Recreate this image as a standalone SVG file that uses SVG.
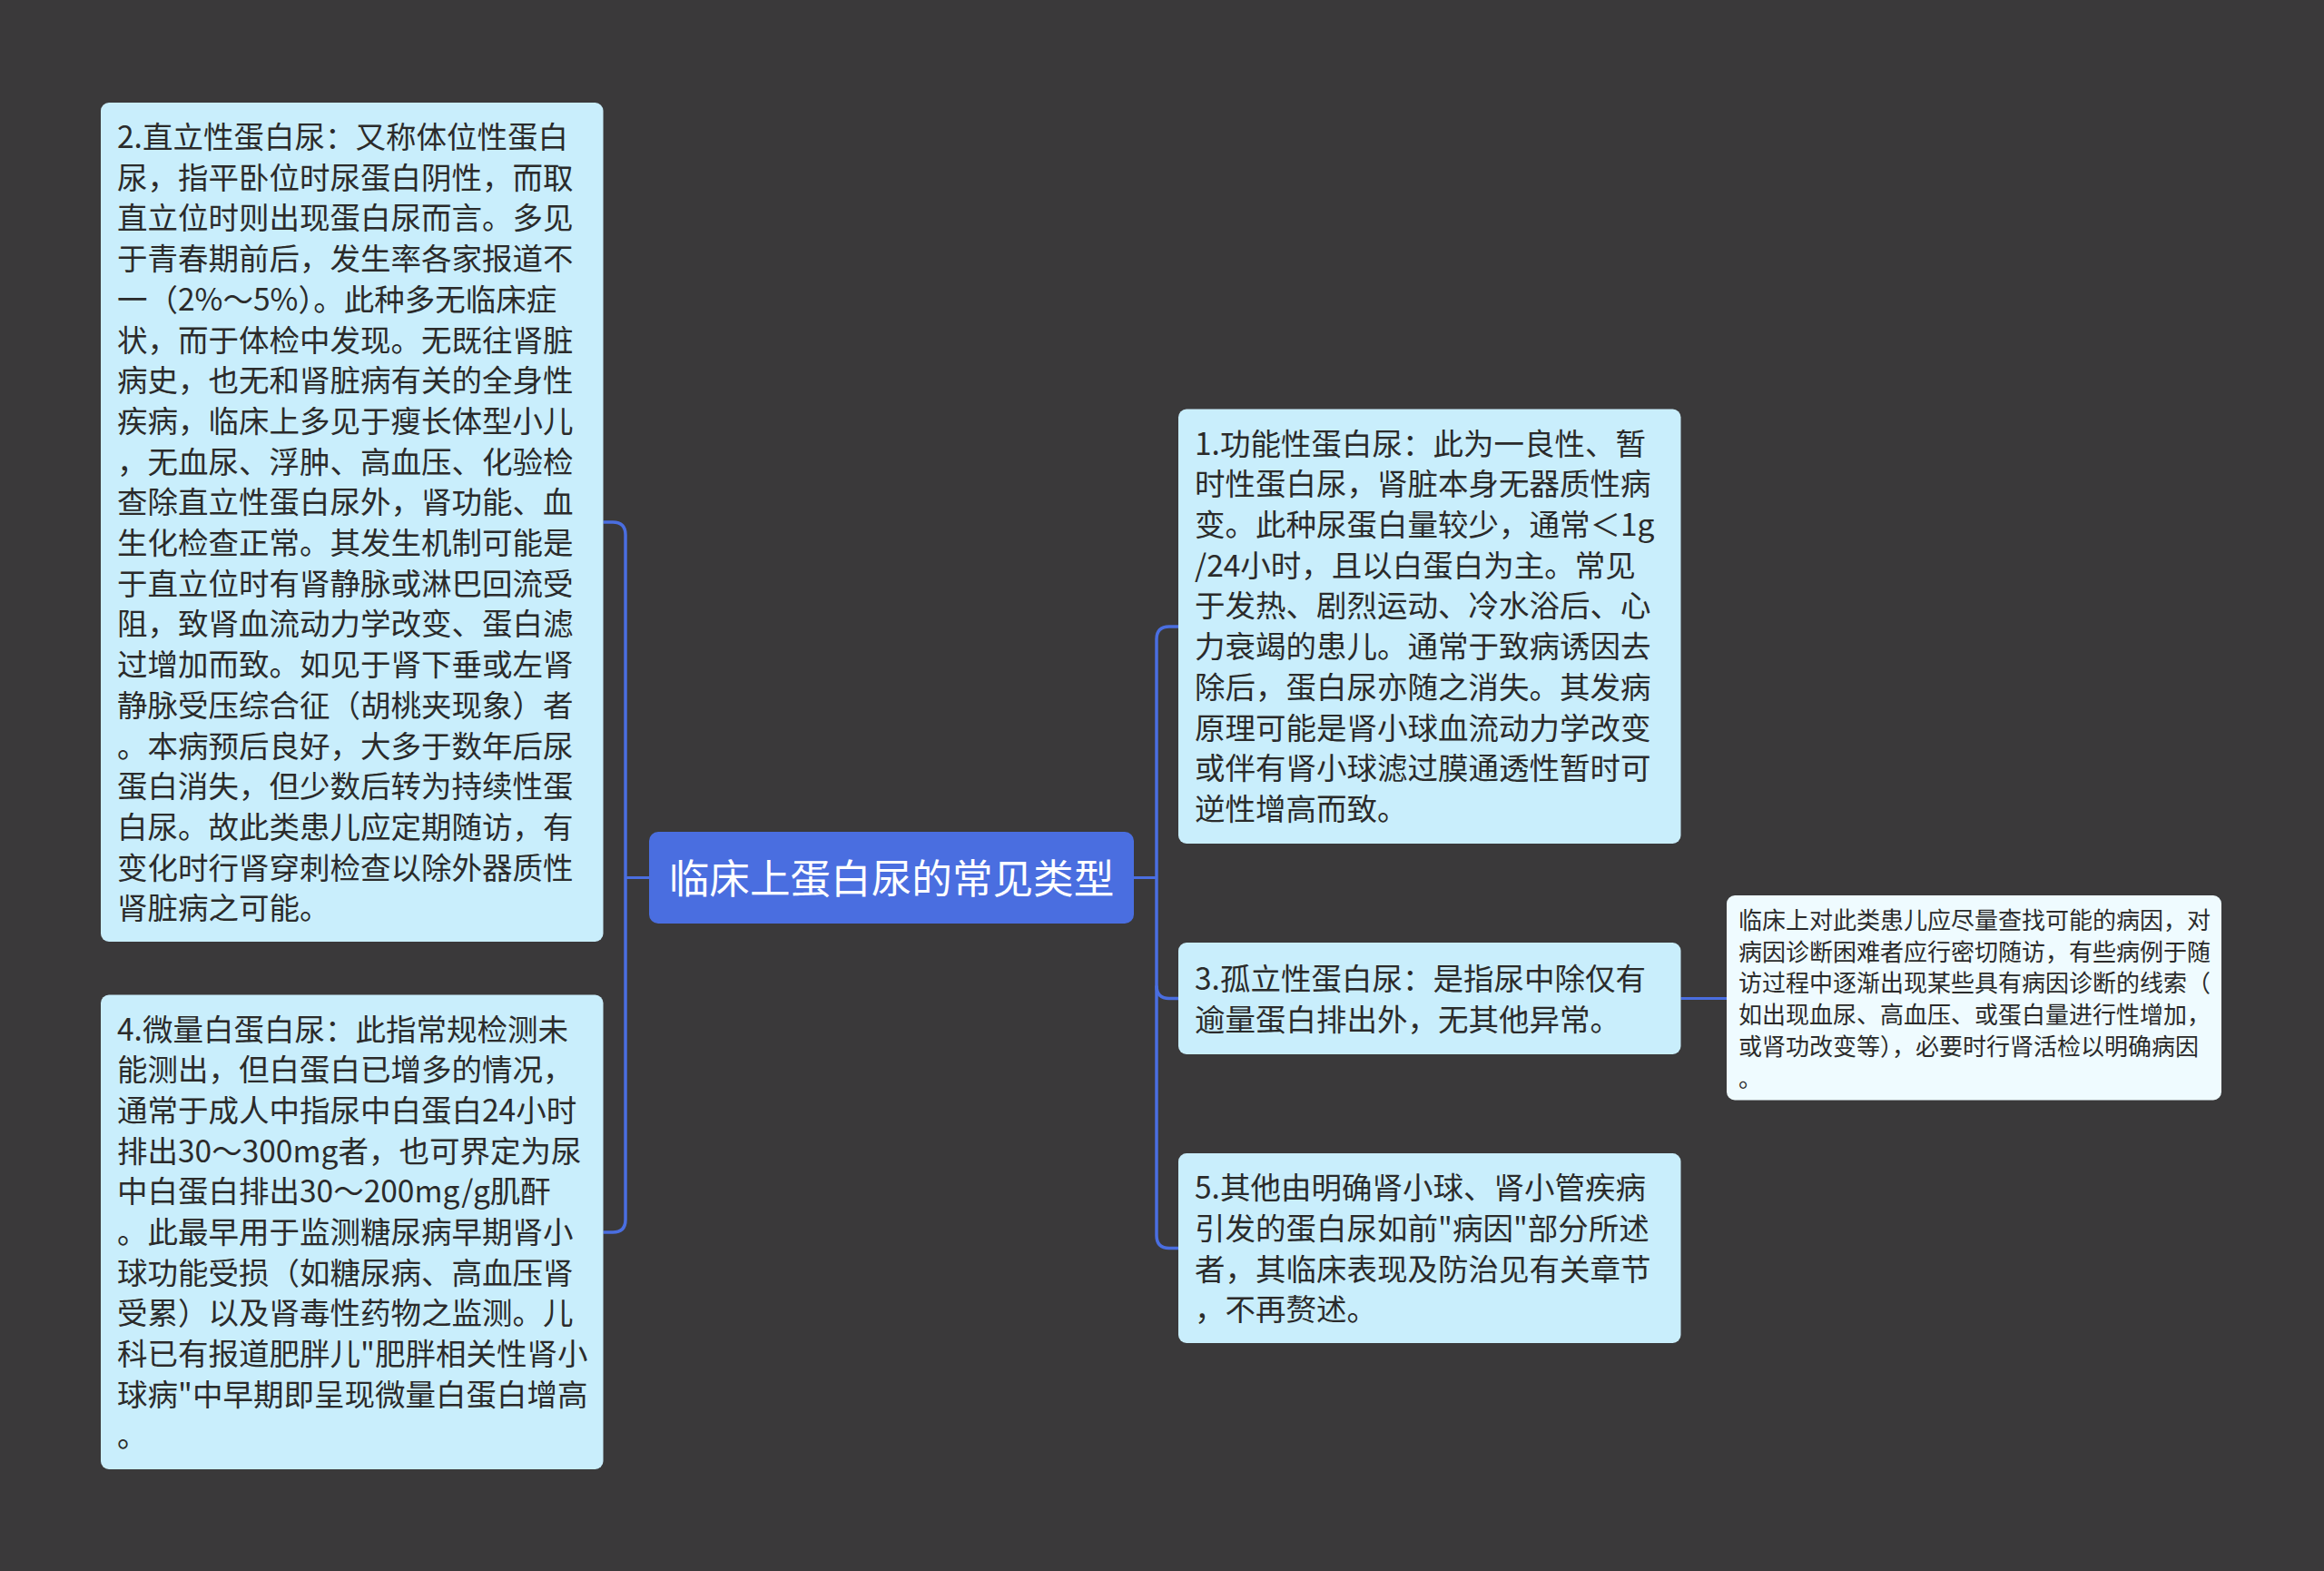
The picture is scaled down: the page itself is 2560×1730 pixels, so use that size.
<svg xmlns="http://www.w3.org/2000/svg" width="2560" height="1730" viewBox="0 0 2560 1730">
<style>
.bg{fill:#3a393a}
.box{fill:#c9eefc}
.note{fill:#effbff}
.root{fill:#4a6ee0}
.t{font-family:"Noto Sans CJK SC","Noto Sans",sans-serif;font-size:33.5px;fill:#2b2b2b}
.s{font-family:"Noto Sans CJK SC","Noto Sans",sans-serif;font-size:26px;fill:#2b2b2b}
.r{font-family:"Noto Sans CJK SC","Noto Sans",sans-serif;font-size:44.6px;fill:#ffffff}
.c{fill:none;stroke:#4a6ee0;stroke-width:3.5}
.c2{fill:none;stroke:#4a6ee0;stroke-width:3}
</style>
<rect class="bg" x="0" y="0" width="2560" height="1730"/>
<g id="connectors">
<path class="c2" d="M715 966.5 H689"/>
<path class="c" d="M664.5 575 H675 Q689 575 689 589 V1343 Q689 1357 675 1357 H664.5"/>
<path class="c2" d="M1249 966.5 H1274"/>
<path class="c" d="M1298 690 H1288 Q1274 690 1274 704 V1360.5 Q1274 1374.5 1288 1374.5 H1298"/>
<path class="c" d="M1274 1085.5 Q1274 1099.5 1288 1099.5 H1298"/>
<path class="c2" d="M1851.5 1099.5 H1902"/>
</g>
<g id="root">
<rect class="root" x="715" y="916" width="534" height="101" rx="10"/>
<text class="r" x="982" y="983.5" text-anchor="middle">临床上蛋白尿的常见类型</text>
</g>
<g id="node2">
<rect class="box" x="111" y="113" width="553.5" height="924" rx="9"/>
<text class="t">
<tspan x="129" y="163">2.直立性蛋白尿：又称体位性蛋白</tspan>
<tspan x="129" y="207.7">尿，指平卧位时尿蛋白阴性，而取</tspan>
<tspan x="129" y="252.4">直立位时则出现蛋白尿而言。多见</tspan>
<tspan x="129" y="297.1">于青春期前后，发生率各家报道不</tspan>
<tspan x="129" y="341.8">一（2%～5%）。此种多无临床症</tspan>
<tspan x="129" y="386.5">状，而于体检中发现。无既往肾脏</tspan>
<tspan x="129" y="431.2">病史，也无和肾脏病有关的全身性</tspan>
<tspan x="129" y="475.9">疾病，临床上多见于瘦长体型小儿</tspan>
<tspan x="129" y="520.6">，无血尿、浮肿、高血压、化验检</tspan>
<tspan x="129" y="565.3">查除直立性蛋白尿外，肾功能、血</tspan>
<tspan x="129" y="610">生化检查正常。其发生机制可能是</tspan>
<tspan x="129" y="654.7">于直立位时有肾静脉或淋巴回流受</tspan>
<tspan x="129" y="699.4">阻，致肾血流动力学改变、蛋白滤</tspan>
<tspan x="129" y="744.1">过增加而致。如见于肾下垂或左肾</tspan>
<tspan x="129" y="788.8">静脉受压综合征（胡桃夹现象）者</tspan>
<tspan x="129" y="833.5">。本病预后良好，大多于数年后尿</tspan>
<tspan x="129" y="878.2">蛋白消失，但少数后转为持续性蛋</tspan>
<tspan x="129" y="922.9">白尿。故此类患儿应定期随访，有</tspan>
<tspan x="129" y="967.6">变化时行肾穿刺检查以除外器质性</tspan>
<tspan x="129" y="1012.3">肾脏病之可能。</tspan>
</text>
</g>
<g id="node4">
<rect class="box" x="111" y="1095.5" width="553.5" height="522.5" rx="9"/>
<text class="t">
<tspan x="129" y="1145.5">4.微量白蛋白尿：此指常规检测未</tspan>
<tspan x="129" y="1190.2">能测出，但白蛋白已增多的情况，</tspan>
<tspan x="129" y="1234.9">通常于成人中指尿中白蛋白24小时</tspan>
<tspan x="129" y="1279.6">排出30～300mg者，也可界定为尿</tspan>
<tspan x="129" y="1324.3">中白蛋白排出30～200mg/g肌酐</tspan>
<tspan x="129" y="1369">。此最早用于监测糖尿病早期肾小</tspan>
<tspan x="129" y="1413.7">球功能受损（如糖尿病、高血压肾</tspan>
<tspan x="129" y="1458.4">受累）以及肾毒性药物之监测。儿</tspan>
<tspan x="129" y="1503.1">科已有报道肥胖儿"肥胖相关性肾小</tspan>
<tspan x="129" y="1547.8">球病"中早期即呈现微量白蛋白增高</tspan>
<tspan x="129" y="1592.5">。</tspan>
</text>
</g>
<g id="node1">
<rect class="box" x="1298" y="450.6" width="553.5" height="478.4" rx="9"/>
<text class="t">
<tspan x="1316" y="500.6">1.功能性蛋白尿：此为一良性、暂</tspan>
<tspan x="1316" y="545.3">时性蛋白尿，肾脏本身无器质性病</tspan>
<tspan x="1316" y="590">变。此种尿蛋白量较少，通常＜1g</tspan>
<tspan x="1316" y="634.7">/24小时，且以白蛋白为主。常见</tspan>
<tspan x="1316" y="679.4">于发热、剧烈运动、冷水浴后、心</tspan>
<tspan x="1316" y="724.1">力衰竭的患儿。通常于致病诱因去</tspan>
<tspan x="1316" y="768.8">除后，蛋白尿亦随之消失。其发病</tspan>
<tspan x="1316" y="813.5">原理可能是肾小球血流动力学改变</tspan>
<tspan x="1316" y="858.2">或伴有肾小球滤过膜通透性暂时可</tspan>
<tspan x="1316" y="902.9">逆性增高而致。</tspan>
</text>
</g>
<g id="node3">
<rect class="box" x="1298" y="1038" width="553.5" height="123" rx="9"/>
<text class="t">
<tspan x="1316" y="1089.9">3.孤立性蛋白尿：是指尿中除仅有</tspan>
<tspan x="1316" y="1134.6">逾量蛋白排出外，无其他异常。</tspan>
</text>
</g>
<g id="node5">
<rect class="box" x="1298" y="1270" width="553.5" height="209" rx="9"/>
<text class="t">
<tspan x="1316" y="1320.2">5.其他由明确肾小球、肾小管疾病</tspan>
<tspan x="1316" y="1364.9">引发的蛋白尿如前"病因"部分所述</tspan>
<tspan x="1316" y="1409.6">者，其临床表现及防治见有关章节</tspan>
<tspan x="1316" y="1454.3">，不再赘述。</tspan>
</text>
</g>
<g id="note3">
<rect class="note" x="1902" y="986" width="545" height="225.5" rx="9"/>
<text class="s">
<tspan x="1915" y="1023">临床上对此类患儿应尽量查找可能的病因，对</tspan>
<tspan x="1915" y="1057.7">病因诊断困难者应行密切随访，有些病例于随</tspan>
<tspan x="1915" y="1092.4">访过程中逐渐出现某些具有病因诊断的线索（</tspan>
<tspan x="1915" y="1127.1">如出现血尿、高血压、或蛋白量进行性增加，</tspan>
<tspan x="1915" y="1161.8">或肾功改变等），必要时行肾活检以明确病因</tspan>
<tspan x="1915" y="1196.5">。</tspan>
</text>
</g>
</svg>
